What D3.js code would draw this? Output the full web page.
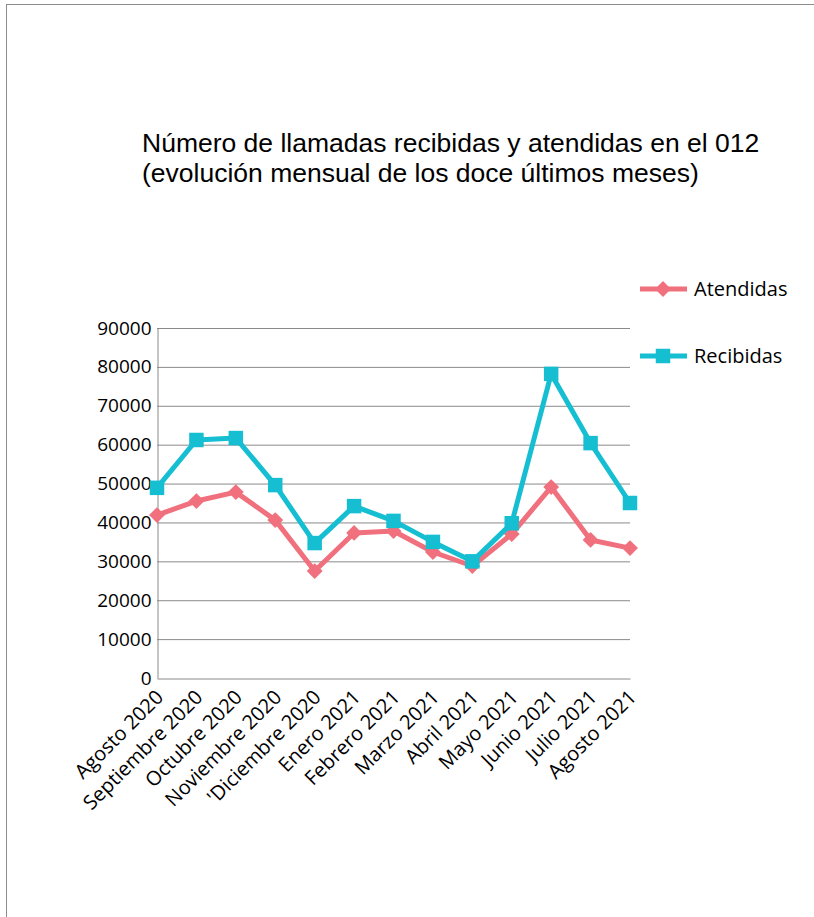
<!DOCTYPE html>
<html>
<head>
<meta charset="utf-8">
<script src="https://cdn.jsdelivr.net/npm/d3@7"></script>
<style>
  body { margin: 0; background: #fff; }
  .tick text { font-family: "Open Sans", sans-serif; fill: #000; }
</style>
</head>
<body>
<div id="chart"></div>
<script>
// months on the x axis
const months = ["Agosto 2020", "Septiembre 2020", "Octubre 2020", "Noviembre 2020",
  "'Diciembre 2020", "Enero 2021", "Febrero 2021", "Marzo 2021", "Abril 2021",
  "Mayo 2021", "Junio 2021", "Julio 2021", "Agosto 2021"];

// calls answered / received
const atendidas = [41900, 45500, 47800, 40600, 27500, 37300, 37800, 32400, 28800, 37000, 49100, 35500, 33400];
const recibidas = [48900, 61200, 61700, 49600, 34700, 44200, 40400, 35000, 30000, 39800, 78200, 60400, 45000];

const yTicks = [0, 10000, 20000, 30000, 40000, 50000, 60000, 70000, 80000, 90000];
const titleLines = ["Número de llamadas recibidas y atendidas en el 012",
  "(evolución mensual de los doce últimos meses)"];

const series = [
  {name: "Atendidas", values: atendidas, color: "#f0707d", marker: "diamond"},
  {name: "Recibidas", values: recibidas, color: "#16bed2", marker: "square"}
];

const width = 814, height = 917;
const plot = {left: 157, right: 630, top: 328, bottom: 678};

const svg = d3.select("#chart").append("svg")
  .attr("width", width)
  .attr("height", height);

// outer frame (runs off the page on the right and bottom)
svg.append("rect")
  .attr("x", 6.5).attr("y", 4.5)
  .attr("width", width).attr("height", height)
  .attr("fill", "none")
  .attr("stroke", "#8c8c8c");

// title
svg.append("text")
  .attr("x", 142)
  .attr("y", 152)
  .style("font-family", "'Liberation Sans', Arial, sans-serif")
  .style("font-size", "26.5px")
  .selectAll("tspan").data(titleLines).enter().append("tspan")
  .attr("x", 142)
  .attr("dy", (d, i) => i === 0 ? 0 : 30)
  .text(d => d);

const x = d3.scalePoint().domain(months).range([plot.left, plot.right]);
const y = d3.scaleLinear().domain([0, 90000]).range([plot.bottom, plot.top]);

// gridlines
svg.append("g").selectAll("line").data(yTicks.filter(d => d > 0)).enter().append("line")
  .attr("x1", plot.left).attr("x2", plot.right)
  .attr("y1", d => y(d) + 0.5).attr("y2", d => y(d) + 0.5)
  .attr("stroke", "#8a8a8a");

// y axis
const yAxis = svg.append("g")
  .attr("transform", `translate(${plot.left + 0.5},0)`)
  .call(d3.axisLeft(y).tickValues(yTicks).tickSize(0).tickPadding(6).tickFormat(d3.format("d")));
yAxis.select(".domain").attr("stroke", "#8a8a8a");
yAxis.selectAll("text").style("font-size", "19px");

// x axis
const xAxis = svg.append("g")
  .attr("transform", `translate(0,${plot.bottom + 0.5})`)
  .call(d3.axisBottom(x).tickSize(0).tickPadding(0));
xAxis.select(".domain").attr("stroke", "#8a8a8a");
xAxis.selectAll("text")
  .style("font-size", "20px")
  .attr("text-anchor", "end")
  .attr("y", 0)
  .attr("dy", 0)
  .attr("transform", "translate(7,20) rotate(-45)");

// lines + markers
const line = d3.line().x((d, i) => x(months[i])).y(d => y(d));
const diamond = d3.symbol().type(d3.symbolDiamond2).size(160);
const square = d3.symbol().type(d3.symbolSquare).size(210);

series.forEach(s => {
  const g = svg.append("g");
  g.append("path")
    .datum(s.values)
    .attr("d", line)
    .attr("fill", "none")
    .attr("stroke", s.color)
    .attr("stroke-width", 5)
    .attr("stroke-linejoin", "round");
  g.selectAll("path.pt").data(s.values).enter().append("path")
    .attr("class", "pt")
    .attr("d", s.marker === "square" ? square : diamond)
    .attr("transform", (d, i) => `translate(${x(months[i])},${y(d)})`)
    .attr("fill", s.color);
});

// legend
const legend = svg.append("g").selectAll("g").data(series).enter().append("g")
  .attr("transform", (d, i) => `translate(640,${289 + i * 67})`);
legend.append("line")
  .attr("x1", 0).attr("x2", 47)
  .attr("stroke", d => d.color)
  .attr("stroke-width", 5);
legend.append("path")
  .attr("d", d => d.marker === "square" ? square() : diamond())
  .attr("transform", "translate(23,0)")
  .attr("fill", d => d.color);
legend.append("text")
  .attr("x", 54)
  .attr("y", 7)
  .style("font-family", "'Open Sans', sans-serif")
  .style("font-size", "20px")
  .text(d => d.name);
</script>
</body>
</html>
